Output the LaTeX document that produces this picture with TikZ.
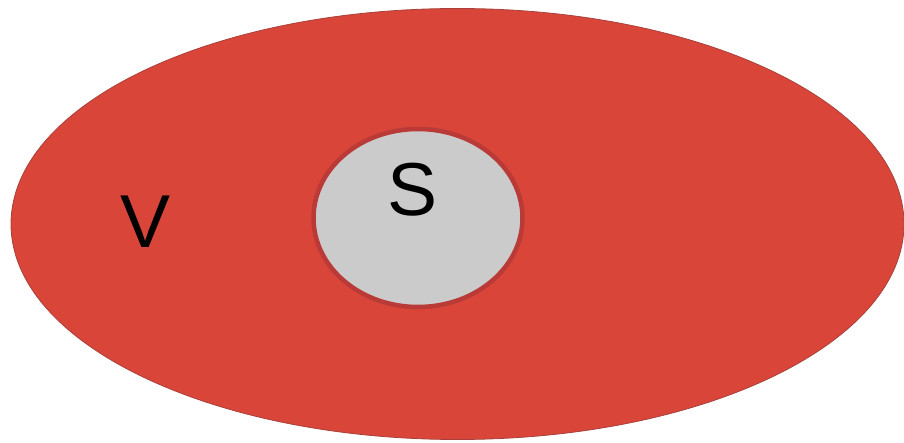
\documentclass[tikz,border=0pt]{standalone}
\usepackage{fontspec}
\setmainfont{Liberation Sans}
\usetikzlibrary{shapes.geometric}

\definecolor{setred}{HTML}{DA4539}
\definecolor{setedge}{HTML}{A8413B}
\definecolor{ringred}{HTML}{B93A36}
\definecolor{subgray}{HTML}{CBCBCB}

\begin{document}
\begin{tikzpicture}[x=1pt, y=-1pt, setlabel/.style={font=\fontsize{75}{90}\selectfont, inner sep=0pt},
    outerset/.style={ellipse, draw=setedge, line width=0.8pt, fill=setred, inner sep=0pt,
    minimum width=893pt, minimum height=431pt},
    innerset/.style={ellipse, draw=ringred, line width=4.5pt, fill=subgray, inner sep=0pt,
    minimum width=209pt, minimum height=178pt}]

  \useasboundingbox (0,0) rectangle (904,443);

  \node[outerset] (V) at (457.5,224) {};
  \node[innerset] (S) at (418,218) {};

  \node[setlabel] (Vtxt) at (146,222) {V};
  \node[setlabel] (Stxt) at (413,190) {S};

\end{tikzpicture}
\end{document}
